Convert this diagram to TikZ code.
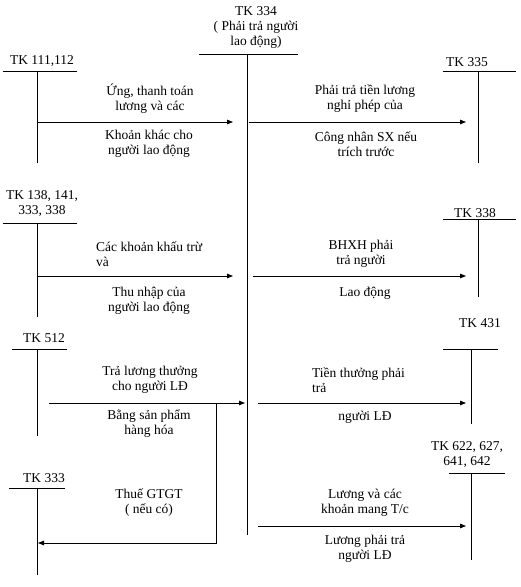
\documentclass[tikz,border=0pt]{standalone}
\usepackage{fontspec}
\setmainfont{Liberation Serif}
\usetikzlibrary{arrows.meta}

\tikzset{
  tk/.style={font=\fontsize{13.5}{15}\selectfont, inner sep=0pt, align=center},
  note/.style={font=\fontsize{13.5}{15}\selectfont, inner sep=0pt, align=center},
  tline/.style={line width=0.8pt},
  flow/.style={line width=0.8pt, -{Triangle[length=6pt,width=4.5pt]}},
}

\begin{document}
\begin{tikzpicture}[x=1pt,y=-1pt]
  \useasboundingbox (0,0) rectangle (520,587);
  % T accounts: name / label / line y / line from-to / stem x / stem end
  \foreach \n/\lx/\ly/\txt/\hy/\ha/\hb/\vx/\vb in {
      c334/256/27/{TK 334\\( Phải trả người\\lao động)}/54/199/298/247/535,
      a111/42/61/{TK 111,112}/71/3/77/37/163,
      a335/467/62/{TK 335}/71/443/516/478/163,
      a138/42/204/{TK 138, 141,\\333, 338}/223/3/77/37/317,
      a338/475/213/{TK 338}/219/443/516/478/297,
      a512/44/338/{TK 512}/349/12/67/37/436,
      a431/480/323/{TK 431}/349/443/498/471/424,
      a333/44/478/{TK 333}/488/9/65/37/575,
      a622/467/455/{TK 622, 627,\\641, 642}/473/449/505/471/560} {
    \node[tk] (\n) at (\lx,\ly) {\txt};
    \coordinate (\n-hl) at (\ha,\hy);
    \coordinate (\n-hr) at (\hb,\hy);
    \coordinate (\n-vt) at (\vx,\hy);
    \coordinate (\n-vb) at (\vx,\vb);
    \draw[tline] (\n-hl) -- (\n-hr);
    \draw[tline] (\n-vt) -- (\n-vb);
  }

  % arrow ends
  \coordinate (f1s) at (37,122);  \coordinate (f1e) at (233,122);
  \coordinate (f2s) at (249,122); \coordinate (f2e) at (466,122);
  \coordinate (f3s) at (37,276);  \coordinate (f3e) at (233,276);
  \coordinate (f4s) at (253,276); \coordinate (f4e) at (466,276);
  \coordinate (f5s) at (49,403);  \coordinate (f5e) at (245,403);
  \coordinate (f5j) at (216,403); \coordinate (f5k) at (38,543);
  \coordinate (f6s) at (258,403); \coordinate (f6e) at (466,403);
  \coordinate (f7s) at (258,526); \coordinate (f7e) at (466,526);

  \draw[flow] (f1s) -- (f1e);
  \draw[flow] (f2s) -- (f2e);
  \draw[flow] (f3s) -- (f3e);
  \draw[flow] (f4s) -- (f4e);
  \draw[flow] (f5s) -- (f5e);
  \draw[flow] (f5j) |- (f5k);
  \draw[flow] (f6s) -- (f6e);
  \draw[flow] (f7s) -- (f7e);

  % texts on the arrows
  \node[note] (n1a) at (150,99) {Ứng, thanh toán\\lương và các};
  \node[note] (n1b) at (149,144) {Khoản khác cho\\người lao động};
  \node[note] (n2a) at (365,99) {Phải trả tiền lương\\nghỉ phép của};
  \node[note] (n2b) at (366,144) {Công nhân SX nếu\\trích trước};
  \node[note, anchor=west, align=left] (n3a) at (96,254) {Các khoản khấu trừ\\và};
  \node[note] (n3b) at (149,301) {Thu nhập của\\người lao động};
  \node[note] (n4a) at (361,254) {BHXH phải\\trả người};
  \node[note] (n4b) at (365,293) {Lao động};
  \node[note] (n5a) at (150,380) {Trả lương thưởng\\cho người LĐ};
  \node[note] (n5b) at (149,424) {Bằng sản phẩm\\hàng hóa};
  \node[note] (n5c) at (149,503) {Thuế GTGT\\( nếu có)};
  \node[note, anchor=west, align=left] (n6a) at (312,380) {Tiền thưởng phải\\trả};
  \node[note] (n6b) at (365,417) {người LĐ};
  \node[note] (n7a) at (365,503) {Lương và các\\khoản mang T/c};
  \node[note] (n7b) at (365,549) {Lương phải trả\\người LĐ};
\end{tikzpicture}
\end{document}
